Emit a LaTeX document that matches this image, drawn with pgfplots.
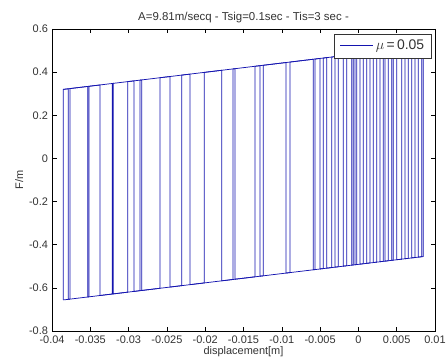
\documentclass[border=0pt]{standalone}
\usepackage{pgfplots}
\pgfplotsset{compat=1.18}
\usepackage{fontspec}
\setmainfont{Liberation Sans}
\definecolor{mblue}{RGB}{20,20,175}
\begin{document}
\begin{tikzpicture}
\begin{axis}[
  name=ax,
  scale only axis,
  width=383bp, height=302bp,
  xmin=-0.04, xmax=0.01, ymin=-0.8, ymax=0.6,
  xtick={-0.04,-0.035,-0.03,-0.025,-0.02,-0.015,-0.01,-0.005,0,0.005,0.01},
  xticklabels={-0.04,-0.035,-0.03,-0.025,-0.02,-0.015,-0.01,-0.005,0,0.005,0.01},
  ytick={-0.8,-0.6,-0.4,-0.2,0,0.2,0.4,0.6},
  yticklabels={-0.8,-0.6,-0.4,-0.2,0,0.2,0.4,0.6},
  scaled x ticks=false, scaled y ticks=false,
  tick label style={font=\fontsize{11}{12}\selectfont, text=black!80},
  xticklabel style={yshift=-1.5bp},
  yticklabel style={xshift=-0.5bp},
  major tick length=4.5bp,
  tick style={black, line width=0.5pt},
  axis line style={black, line width=0.5pt},
  title={A=9.81m/secq - Tsig=0.1sec - Tis=3 sec -},
  title style={font=\fontsize{11.5}{13}\selectfont, text=black!80, yshift=-3bp},
  xlabel={displacement[m]},
  ylabel={F/m},
  label style={font=\fontsize{11}{12}\selectfont, text=black!80},
  xlabel style={yshift=4bp},
  ylabel style={yshift=-1bp},
  legend style={at={(0.992,0.985)}, anchor=north east, draw=black!80, line width=0.5pt,
    font=\fontsize{14}{16}\selectfont, inner xsep=5.5pt, inner ysep=4.5pt, row sep=0pt,
    text=black!80},
  legend image code/.code={\draw[#1] (0bp,0bp) -- (33bp,0bp);},
  legend cell align=left,
]
\addplot[mblue, line width=0.75pt] coordinates {
(-0.03852,-0.6559)(-0.03852,0.3201)
(-0.03787,0.3229)(-0.03787,-0.6531)
(-0.03765,-0.6521)(-0.03765,0.3239)
(-0.03534,0.3337)(-0.03534,-0.6423)
(-0.03517,-0.6415)(-0.03517,0.3345)
(-0.03373,0.3406)(-0.03373,-0.6354)
(-0.03213,-0.6285)(-0.03213,0.3475)
(-0.03200,0.3480)(-0.03200,-0.6280)
(-0.03012,-0.6199)(-0.03012,0.3561)
(-0.02929,0.3596)(-0.02929,-0.6164)
(-0.02851,-0.6130)(-0.02851,0.3630)
(-0.02829,0.3639)(-0.02829,-0.6121)
(-0.02590,-0.6019)(-0.02590,0.3742)
(-0.02460,0.3797)(-0.02460,-0.5963)
(-0.02307,-0.5897)(-0.02307,0.3863)
(-0.02198,0.3909)(-0.02198,-0.5851)
(-0.02012,-0.5771)(-0.02012,0.3989)
(-0.01785,0.4086)(-0.01785,-0.5674)
(-0.01637,-0.5611)(-0.01637,0.4149)
(-0.01611,0.4161)(-0.01611,-0.5600)
(-0.01350,-0.5488)(-0.01350,0.4272)
(-0.01285,0.4300)(-0.01285,-0.5460)
(-0.01241,-0.5441)(-0.01241,0.4319)
(-0.00945,0.4446)(-0.00945,-0.5315)
(-0.00893,-0.5292)(-0.00893,0.4468)
(-0.00589,0.4598)(-0.00589,-0.5162)
(-0.00567,-0.5153)(-0.00567,0.4607)
(-0.00501,0.4636)(-0.00501,-0.5124)
(-0.00458,-0.5106)(-0.00458,0.4654)
(-0.00414,0.4673)(-0.00414,-0.5087)
(-0.00349,-0.5059)(-0.00349,0.4701)
(-0.00305,0.4719)(-0.00305,-0.5041)
(-0.00262,-0.5022)(-0.00262,0.4738)
(-0.00197,0.4766)(-0.00197,-0.4994)
(-0.00153,-0.4976)(-0.00153,0.4785)
(-0.00087,0.4813)(-0.00087,-0.4947)
(-0.00066,-0.4938)(-0.00066,0.4822)
(-0.00044,0.4831)(-0.00044,-0.4929)
(-0.00022,-0.4919)(-0.00022,0.4841)
(0.00021,0.4859)(0.00021,-0.4901)
(0.00064,-0.4883)(0.00064,0.4877)
(0.00108,0.4896)(0.00108,-0.4864)
(0.00152,-0.4845)(0.00152,0.4915)
(0.00195,0.4933)(0.00195,-0.4826)
(0.00239,-0.4808)(0.00239,0.4952)
(0.00282,0.4971)(0.00282,-0.4789)
(0.00325,-0.4771)(0.00325,0.4989)
(0.00347,0.4999)(0.00347,-0.4762)
(0.00391,-0.4743)(0.00391,0.5017)
(0.00435,0.5036)(0.00435,-0.4724)
(0.00456,-0.4715)(0.00456,0.5045)
(0.00500,0.5064)(0.00500,-0.4696)
(0.00565,-0.4668)(0.00565,0.5092)
(0.00608,0.5110)(0.00608,-0.4650)
(0.00652,-0.4631)(0.00652,0.5129)
(0.00696,0.5148)(0.00696,-0.4612)
(0.00739,-0.4594)(0.00739,0.5166)
(0.00782,0.5185)(0.00782,-0.4575)
(0.00826,-0.4557)(0.00826,0.5204)
(0.00847,0.5213)(0.00847,-0.4548)
};
\addlegendentry{$\mu\,$=\,0.05}
\addplot[mblue, line width=0.75pt, forget plot] coordinates {(-0.03852,0.3201)(0.00847,0.5213)};
\addplot[mblue, line width=0.75pt, forget plot] coordinates {(-0.03852,-0.6559)(0.00847,-0.4548)};
\end{axis}
\pgfresetboundingbox
\path ([xshift=-52bp,yshift=-32bp]ax.south west) rectangle ([xshift=12bp,yshift=29bp]ax.north east);
\end{tikzpicture}
\end{document}
